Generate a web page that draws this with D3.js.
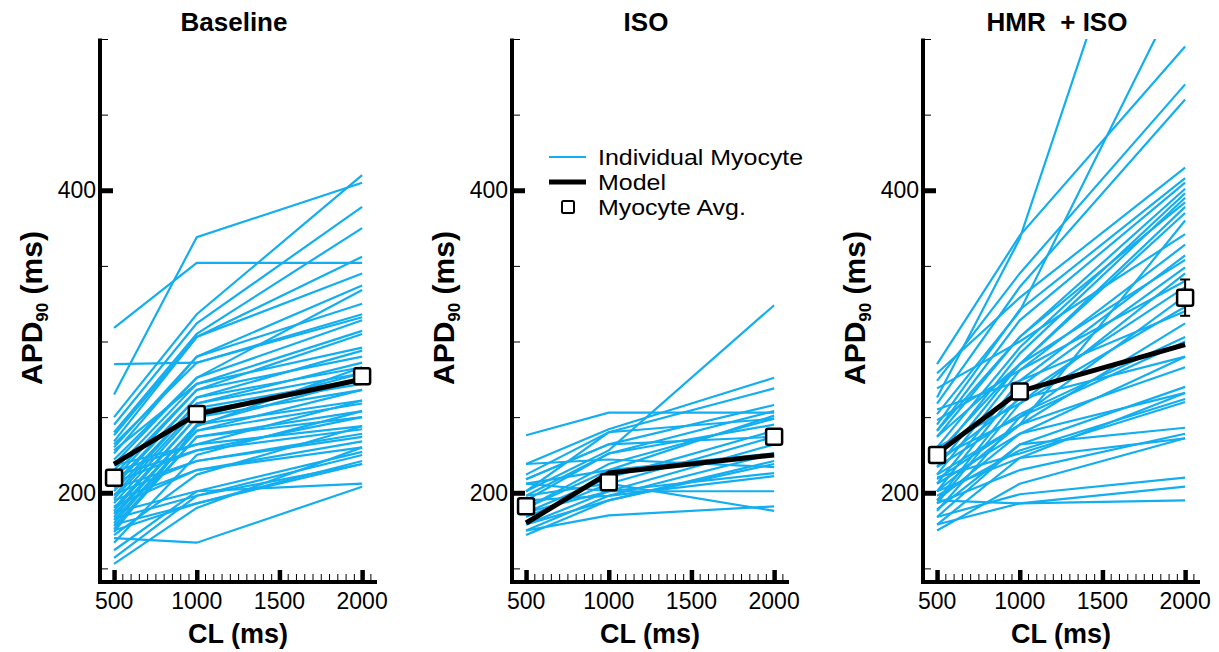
<!DOCTYPE html>
<html>
<head>
<meta charset="utf-8">
<script src="https://cdn.jsdelivr.net/npm/d3@7"></script>
<style>
  body { margin: 0; background: #fff; }
  svg { display: block; font-family: "Liberation Sans", Arial, sans-serif; }
  text { white-space: pre; }
</style>
</head>
<body>
<svg id="chart" width="1219" height="652"></svg>
<script>
// cycle lengths (ms) and the three conditions
var cycleLengths = [500, 1000, 2000];
var panelTitles = ["Baseline", "ISO", "HMR  + ISO"];

// individual myocyte APD90 at CL 500 / 1000 / 2000
var baselineCells = [
  [265, 369, 405], [309, 352, 352], [285, 286, 318], [250, 318, 410], [245, 312, 389],
  [240, 305, 375], [238, 303, 356], [234, 303, 345], [230, 290, 337], [226, 290, 325],
  [232, 286, 316], [222, 276, 334], [219, 276, 314], [215, 272, 307], [228, 272, 296],
  [212, 268, 305], [209, 268, 290], [206, 263, 294], [204, 263, 283], [201, 259, 286],
  [198, 259, 279], [196, 256, 275], [193, 254, 272], [190, 250, 268], [188, 250, 279],
  [186, 245, 261], [184, 245, 275], [182, 241, 259], [180, 241, 268], [178, 237, 254],
  [176, 237, 250], [218, 232, 261], [214, 232, 244], [211, 228, 242], [207, 228, 250],
  [203, 221, 239], [199, 221, 237], [195, 215, 234], [191, 215, 230], [187, 201, 227],
  [183, 198, 225], [179, 193, 221], [175, 193, 219], [170, 167, 204], [162, 201, 206],
  [157, 198, 219], [153, 190, 230], [172, 212, 244], [167, 225, 254], [174, 244, 283]
];
var isoCells = [
  [238, 253, 253], [201, 228, 324], [219, 242, 276], [212, 240, 269], [209, 232, 258],
  [195, 226, 254], [206, 215, 251], [190, 219, 249], [198, 226, 245], [187, 210, 241],
  [184, 206, 237], [179, 201, 232], [175, 198, 226], [172, 195, 221], [219, 222, 217],
  [206, 201, 201], [198, 206, 188], [175, 185, 191], [195, 198, 211], [187, 201, 213],
  [190, 215, 226], [209, 232, 237], [179, 195, 219], [201, 240, 249]
];
var hmrIsoCells = [
  [263, 368, 695], [252, 320, 540], [285, 370, 495], [274, 345, 470], [259, 336, 460],
  [279, 329, 415], [245, 321, 408], [241, 314, 405], [237, 303, 401], [230, 296, 398],
  [223, 292, 395], [217, 285, 389], [269, 300, 371], [212, 281, 364], [206, 274, 357],
  [237, 285, 354], [201, 270, 349], [230, 259, 345], [195, 264, 336], [223, 250, 330],
  [193, 259, 323], [212, 245, 312], [217, 252, 303], [206, 239, 290], [201, 245, 283],
  [184, 232, 270], [195, 239, 266], [179, 223, 266], [189, 232, 243], [193, 215, 239],
  [201, 223, 236], [175, 206, 236], [184, 199, 210], [179, 193, 204], [195, 193, 195],
  [209, 245, 380], [226, 285, 385], [241, 303, 392], [248, 281, 340], [255, 274, 320],
  [220, 262, 290], [210, 226, 260], [188, 250, 300], [198, 228, 262]
];

// model output
var baselineModel = [219, 252, 275];
var isoModel = [180, 213, 225];
var hmrIsoModel = [226, 267, 298];

// myocyte averages and their error
var baselineAvg = [210, 252, 277];
var isoAvg = [191, 207, 237];
var hmrIsoAvg = [225, 267, 329];
var baselineErr = [4, 4, 5];
var isoErr = [3, 3, 4];
var hmrIsoErr = [4, 4, 12];

var yTicksMajor = [200, 400];
var yTicksMinor = [150, 250, 300, 350, 450, 500];
var xTicksMajor = [500, 1000, 1500, 2000];

var blue = "#13aef0";

var svg = d3.select("#chart");
var panelLeft = [100, 512, 923];
var axisW = 277;

var x = d3.scaleLinear().domain([415, 2090]).range([0, axisW]);
var y = d3.scaleLinear().domain([141, 500]).range([582, 39]);

svg.append("defs").append("clipPath").attr("id", "plotclip")
  .append("rect").attr("x", 0).attr("y", y(500)).attr("width", axisW).attr("height", y(141) - y(500));

var panels = [
  { cells: baselineCells, model: baselineModel, avg: baselineAvg, err: baselineErr },
  { cells: isoCells, model: isoModel, avg: isoAvg, err: isoErr },
  { cells: hmrIsoCells, model: hmrIsoModel, avg: hmrIsoAvg, err: hmrIsoErr }
];

var line = d3.line()
  .x(function (d, i) { return x(cycleLengths[i]); })
  .y(function (d) { return y(d); });

panels.forEach(function (p, k) {
  var g = svg.append("g").attr("transform", "translate(" + panelLeft[k] + ",0)");

  // individual cells
  var plot = g.append("g").attr("clip-path", "url(#plotclip)");
  plot.selectAll("path.cell").data(p.cells).enter().append("path")
    .attr("class", "cell")
    .attr("d", line)
    .attr("fill", "none")
    .attr("stroke", blue)
    .attr("stroke-width", 2.2);

  // model
  plot.append("path").datum(p.model)
    .attr("d", line)
    .attr("fill", "none")
    .attr("stroke", "#000")
    .attr("stroke-width", 5)
    .attr("stroke-linejoin", "round");

  // error bars
  var eb = g.append("g");
  p.avg.forEach(function (v, i) {
    var cx = x(cycleLengths[i]);
    eb.append("line").attr("x1", cx).attr("x2", cx)
      .attr("y1", y(v - p.err[i])).attr("y2", y(v + p.err[i]))
      .attr("stroke", "#000").attr("stroke-width", 2);
    [v - p.err[i], v + p.err[i]].forEach(function (e) {
      eb.append("line").attr("x1", cx - 5).attr("x2", cx + 5)
        .attr("y1", y(e)).attr("y2", y(e))
        .attr("stroke", "#000").attr("stroke-width", 2);
    });
  });

  // average squares
  g.selectAll("rect.avg").data(p.avg).enter().append("rect")
    .attr("class", "avg")
    .attr("x", function (d, i) { return x(cycleLengths[i]) - 8; })
    .attr("y", function (d) { return y(d) - 8; })
    .attr("width", 16).attr("height", 16)
    .attr("rx", 2)
    .attr("fill", "#fff")
    .attr("stroke", "#000")
    .attr("stroke-width", 2.5);

  // y axis
  var yAxisMinor = d3.axisRight(y).tickValues(yTicksMinor).tickSize(8).tickFormat("");
  var ya = g.append("g").call(yAxisMinor);
  ya.select(".domain").remove();
  ya.selectAll("line").attr("stroke-width", 1);

  var yAxisMajor = d3.axisRight(y).tickValues(yTicksMajor).tickSize(13).tickFormat("");
  var yb = g.append("g").call(yAxisMajor);
  yb.select(".domain").remove();
  yb.selectAll("line").attr("stroke-width", 5);

  g.selectAll("text.ylab").data(yTicksMajor).enter().append("text")
    .attr("class", "ylab")
    .attr("x", -4)
    .attr("y", function (d) { return y(d) + 8; })
    .attr("text-anchor", "end")
    .attr("font-size", 23)
    .text(function (d) { return d; });

  g.append("line").attr("x1", 0).attr("x2", 0).attr("y1", y(500) - 0.5).attr("y2", 584)
    .attr("stroke", "#000").attr("stroke-width", 4);

  // x axis
  var minors = d3.range(550, 2051, 50).filter(function (v) { return v % 500 !== 0; });
  var xAxisMinor = d3.axisTop(x).tickValues(minors).tickSize(8).tickFormat("");
  var xa = g.append("g").attr("transform", "translate(0,582)").call(xAxisMinor);
  xa.select(".domain").remove();
  xa.selectAll("line").attr("stroke-width", 1);

  var xAxisMajor = d3.axisTop(x).tickValues(xTicksMajor).tickSize(12).tickFormat("");
  var xb = g.append("g").attr("transform", "translate(0,582)").call(xAxisMajor);
  xb.select(".domain").remove();
  xb.selectAll("line").attr("stroke-width", 4.5);

  g.append("line").attr("x1", -2).attr("x2", axisW).attr("y1", 582).attr("y2", 582)
    .attr("stroke", "#000").attr("stroke-width", 4);

  g.selectAll("text.xlab").data(xTicksMajor).enter().append("text")
    .attr("class", "xlab")
    .attr("x", function (d) { return x(d); })
    .attr("y", 609)
    .attr("text-anchor", "middle")
    .attr("font-size", 23)
    .text(function (d) { return d; });

  g.append("text")
    .attr("x", 138).attr("y", 643)
    .attr("text-anchor", "middle")
    .attr("font-size", 27).attr("font-weight", "bold")
    .text("CL (ms)");

  var yl = g.append("text")
    .attr("transform", "translate(-58,308) rotate(-90)")
    .attr("text-anchor", "middle")
    .attr("font-size", 30).attr("font-weight", "bold");
  yl.append("tspan").text("APD");
  yl.append("tspan").attr("font-size", 17).attr("dy", 6).text("90");
  yl.append("tspan").attr("dy", -6).text(" (ms)");

  g.append("text")
    .attr("x", 134).attr("y", 31)
    .attr("text-anchor", "middle")
    .attr("font-size", 26).attr("font-weight", "bold")
    .text(panelTitles[k]);
});

// legend inside ISO panel
var lg = svg.append("g");
lg.append("line").attr("x1", 549).attr("x2", 586).attr("y1", 157).attr("y2", 157)
  .attr("stroke", blue).attr("stroke-width", 2.2);
lg.append("line").attr("x1", 549).attr("x2", 586).attr("y1", 182).attr("y2", 182)
  .attr("stroke", "#000").attr("stroke-width", 5);
lg.append("rect").attr("x", 562).attr("y", 201).attr("width", 12).attr("height", 12)
  .attr("rx", 1.5).attr("fill", "#fff").attr("stroke", "#000").attr("stroke-width", 2);
var legendText = ["Individual Myocyte", "Model", "Myocyte Avg."];
lg.selectAll("text").data(legendText).enter().append("text")
  .attr("x", 598)
  .attr("y", function (d, i) { return 165 + i * 25; })
  .attr("font-size", 21.5)
  .text(function (d) { return d; })
  .each(function () {
    // the original legend font runs wider than Liberation Sans
    var w = this.getComputedTextLength();
    d3.select(this).attr("textLength", w * 1.16).attr("lengthAdjust", "spacingAndGlyphs");
  });
</script>
</body>
</html>
